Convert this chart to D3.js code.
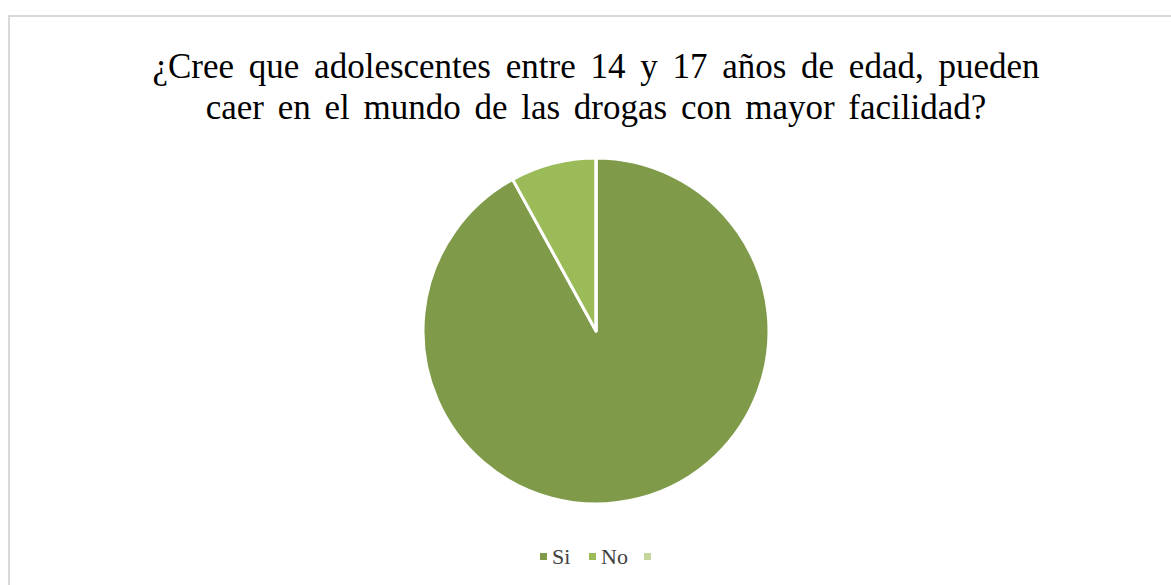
<!DOCTYPE html>
<html>
<head>
<meta charset="utf-8">
<script src="https://cdn.jsdelivr.net/npm/d3@7"></script>
<style>
  body { margin: 0; background: #fff; }
  svg { display: block; }
  .title { font-family: "Liberation Serif", "Times New Roman", serif; font-size: 35px; fill: #000; }
  .legend-text { font-family: "Liberation Serif", "Times New Roman", serif; font-size: 22px; fill: #404040; }
</style>
</head>
<body>
<div id="chart"></div>
<script>
const categories = ["Si", "No", ""];
const values = [92, 8, 0];
const colors = ["#7f9b4a", "#9bbb59", "#c3d69b"];
const titleLines = [
  "¿Cree que adolescentes entre 14 y 17 años de edad, pueden",
  "caer en el mundo de las drogas con mayor facilidad?"
];

const width = 1171, height = 585;
const svg = d3.select("#chart").append("svg").attr("width", width).attr("height", height);

// chart area border
svg.append("rect")
  .attr("x", 9).attr("y", 16)
  .attr("width", width + 10).attr("height", height + 10)
  .attr("fill", "none")
  .attr("stroke", "#d9d9d9")
  .attr("stroke-width", 2);

// title
svg.append("text")
  .attr("class", "title")
  .attr("text-anchor", "middle")
  .selectAll("tspan")
  .data(titleLines)
  .join("tspan")
  .attr("x", 596)
  .attr("y", (d, i) => 78 + i * 41)
  .style("word-spacing", (d, i) => (i === 0 ? "6px" : "5px"))
  .text(d => d);

// pie
const cx = 596, cy = 331, r = 173;
const data = categories.map((c, i) => ({ name: c, value: values[i], color: colors[i] }));
const pie = d3.pie().sort(null).value(d => d.value);
const arc = d3.arc().innerRadius(0).outerRadius(r);

svg.append("g")
  .attr("transform", `translate(${cx},${cy})`)
  .selectAll("path")
  .data(pie(data))
  .join("path")
  .attr("d", arc)
  .attr("fill", d => d.data.color)
  .attr("stroke", "#fff")
  .attr("stroke-width", 3)
  .attr("stroke-linejoin", "round");

// legend
const legendX = [540, 589, 644];
const legend = svg.append("g")
  .selectAll("g")
  .data(data)
  .join("g")
  .attr("transform", (d, i) => `translate(${legendX[i]},557)`);

legend.append("rect")
  .attr("x", 0).attr("y", -4)
  .attr("width", 7).attr("height", 7)
  .attr("fill", d => d.color);

legend.append("text")
  .attr("class", "legend-text")
  .attr("x", 12)
  .attr("y", 7)
  .text(d => d.name);
</script>
</body>
</html>
